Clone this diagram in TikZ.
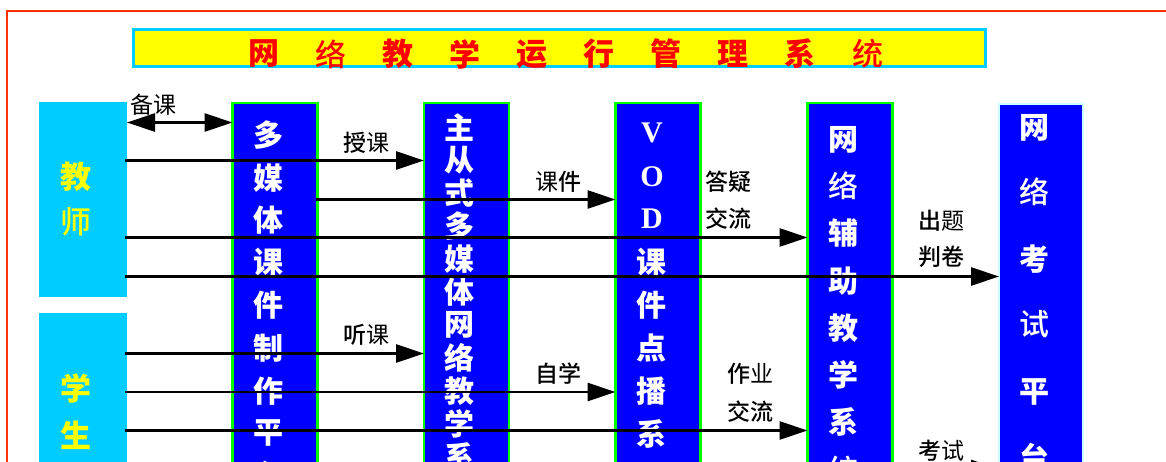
\documentclass[tikz,border=0pt]{standalone}
\usepackage{fontspec}
\usetikzlibrary{arrows.meta}
\setmainfont{Noto Sans CJK SC}
\newfontfamily\latinbold{Liberation Serif}[Scale=1]
\newfontfamily\medfont{Noto Sans CJK SC Medium}
\definecolor{skyc}{HTML}{00CCFF}
\definecolor{pureblue}{HTML}{0000FF}
\definecolor{puregreen}{HTML}{00FF00}
\definecolor{framered}{HTML}{FF3300}
\definecolor{palecyan}{HTML}{CCFFFF}
\definecolor{titlered}{HTML}{FF0000}
\definecolor{titleyellow}{HTML}{FFFF00}
\newcommand{\Z}[1]{\textbf{#1}}
\newcommand{\M}[1]{{\medfont #1}}
\tikzset{
  actor/.style={fill=skyc,inner sep=0pt,outer sep=0pt},
  sysbox/.style={fill=pureblue,draw=puregreen,line width=2.2pt,inner sep=0pt,outer sep=0pt},
  exambox/.style={fill=pureblue,draw=palecyan,line width=2pt,inner sep=0pt,outer sep=0pt},
  glyph/.style={text=white,inner sep=0pt,font=\fontsize{30}{30}\selectfont},
  actorglyph/.style={text=titleyellow,inner sep=0pt,font=\fontsize{31}{31}\selectfont},
  titleglyph/.style={text=titlered,inner sep=0pt,font=\fontsize{31}{31}\selectfont},
  lbl/.style={text=black,inner sep=0pt,font=\fontsize{23}{23}\selectfont},
  link/.style={line width=2.8pt,black,-{Triangle[length=28pt,width=18pt]},shorten <=-2pt},
  link2/.style={line width=2.8pt,black,{Triangle[length=28pt,width=18pt]}-{Triangle[length=28pt,width=18pt]}},
}
\begin{document}
\begin{tikzpicture}[x=1pt,y=-1pt]
\clip (0,0) rectangle (1166,462);
\fill[white] (0,0) rectangle (1166,462);
\node[draw=framered,line width=2pt,minimum width=1300pt,minimum height=600pt,inner sep=0pt,outer sep=0pt,anchor=north west] (frame) at (7,11) {};
\node[fill=titleyellow,draw=skyc,line width=2.4pt,minimum width=852pt,minimum height=37pt,inner sep=0pt,outer sep=0pt] (titlebox) at (559.5,48) {};
\foreach \c/\x in {\Z{网}/264,\M{络}/331,\Z{教}/398,\Z{学}/465,\Z{运}/532,\Z{行}/599,\Z{管}/666,\Z{理}/733,\Z{系}/800,\M{统}/868}
  \node[titleglyph,name=t\x] at (\x,54) {\c};
\node[actor,minimum width=88pt,minimum height=195pt] (teacher) at (83,199.5) {};
\node[actor,minimum width=88pt,minimum height=210pt] (student) at (83,418) {};
\node[sysbox,minimum width=85pt,minimum height=440pt] (mm) at (275,323) {};
\node[sysbox,minimum width=85pt,minimum height=440pt] (ms) at (466.5,323) {};
\node[sysbox,minimum width=85pt,minimum height=440pt] (vod) at (658,323) {};
\node[sysbox,minimum width=85pt,minimum height=440pt] (aid) at (850,323) {};
\node[exambox,minimum width=84pt,minimum height=440pt] (exam) at (1041,324) {};
\node[actorglyph,name=a1] at (76,177) {\Z{教}};
\node[actorglyph,name=a2] at (76,222) {\M{师}};
\node[actorglyph,name=a3] at (76,388) {\Z{学}};
\node[actorglyph,name=a4] at (76,435) {\Z{生}};
\foreach \c/\y in {多/135,媒/178,体/220,课/262,件/305,制/348,作/391,平/433,台/476}
  \node[glyph,name=p\y] at (268,\y) {\Z{\c}};
\foreach \c/\y in {主/128,从/160,式/193,多/226,媒/259,体/292,网/325,络/358,教/391,学/424,系/457}
  \node[glyph,name=q\y] at (459.5,\y) {\Z{\c}};
\foreach \c/\y in {V/133,O/177,D/219}
  \node[glyph,name=r\y,font={\fontsize{30}{30}\selectfont\latinbold}] at (652,\y) {\Z{\c}};
\foreach \c/\y in {课/262,件/305,点/348,播/391,系/434,统/477}
  \node[glyph,name=r\y] at (651,\y) {\Z{\c}};
\foreach \c/\y in {\Z{网}/140,\M{络}/186,\Z{辅}/233,\Z{助}/281,\Z{教}/328,\Z{学}/375,\Z{系}/422,\M{统}/470}
  \node[glyph,name=s\y] at (843,\y) {\c};
\foreach \c/\y in {\Z{网}/128,\M{络}/192,\Z{考}/259,\M{试}/324,\Z{平}/392,\Z{台}/458}
  \node[glyph,name=u\y] at (1034,\y) {\c};
\node[lbl,name=l1] at (153,105) {备课};
\node[lbl,name=l2] at (366,143) {\M{授}课};
\node[lbl,name=l3] at (558,182) {课\M{件}};
\node[lbl,name=l4] at (728,182) {\M{答疑}};
\node[lbl,name=l5] at (728,219) {\M{交流}};
\node[lbl,name=l6] at (941,221) {\M{出}题};
\node[lbl,name=l7] at (941,257) {\M{判卷}};
\node[lbl,name=l8] at (366,335) {\M{听}课};
\node[lbl,name=l9] at (558,374) {\M{自学}};
\node[lbl,name=l10] at (750,374) {\M{作}业};
\node[lbl,name=l11] at (750,412) {\M{交流}};
\node[lbl,name=l12] at (941,451) {\M{考}试};
\coordinate (y122) at (0,122.5);
\coordinate (y160) at (0,160.5);
\coordinate (y199) at (0,199.5);
\coordinate (y237) at (0,237.5);
\coordinate (y276) at (0,276.5);
\coordinate (y353) at (0,353.5);
\coordinate (y392) at (0,392);
\coordinate (y430) at (0,430.5);
\coordinate (y469) at (0,469);
\draw[link2] (teacher.east |- y122) -- (mm.west |- y122);
\draw[link] (teacher.east |- y160) -- (ms.west |- y160);
\draw[link] (mm.east |- y199) -- (vod.west |- y199);
\draw[link] (teacher.east |- y237) -- (aid.west |- y237);
\draw[link] (teacher.east |- y276) -- (exam.west |- y276);
\draw[link] (student.east |- y353) -- (ms.west |- y353);
\draw[link] (student.east |- y392) -- (vod.west |- y392);
\draw[link] (student.east |- y430) -- (aid.west |- y430);
\draw[link] (student.east |- y469) -- (exam.west |- y469);
\end{tikzpicture}
\end{document}
